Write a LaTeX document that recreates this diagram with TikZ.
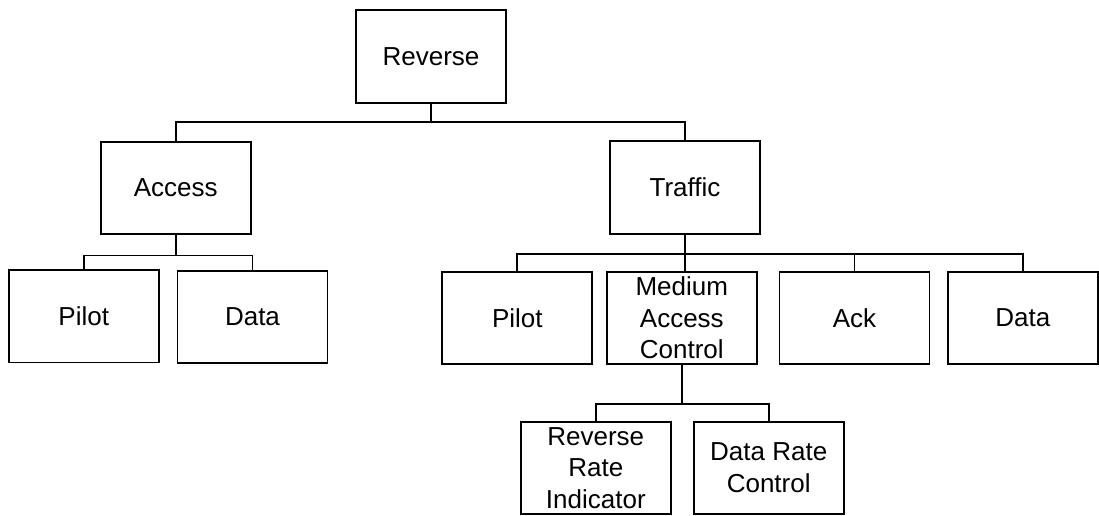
\documentclass[tikz,border=0pt]{standalone}
\usepackage{fontspec}
\setmainfont{Liberation Sans}
\begin{document}
\begin{tikzpicture}[x=1pt,y=-1pt,
  box/.style={draw, line width=1.8pt, inner sep=0pt, minimum width=150pt,
    minimum height=92.5pt, align=center,
    font=\fontsize{26}{31.7}\selectfont},
  link/.style={line width=1.8pt}]
  \useasboundingbox (0,0) rectangle (1099,516);

  % root
  \node[box] (rev) at (431,56.5) {Reverse};

  % second level
  \node[box] (acc) at (175.7,188) {Access};
  \node[box] (tra) at (685,187.5) {Traffic};

  % children of Access
  \node[box] (pil1) at (83.7,316.3) {Pilot};
  \node[box] (dat1) at (252.5,317) {Data};

  % children of Traffic
  \node[box] (pil2) at (517.3,318) {Pilot};
  \node[box] (mac)  at (681.8,318) {Medium\\Access\\Control};
  \node[box] (ack)  at (854.5,318) {Ack};
  \node[box] (dat2) at (1022.8,318) {Data};

  % children of Medium Access Control
  \node[box] (rri) at (595.8,468) {Reverse\\Rate\\Indicator};
  \node[box] (drc) at (768.7,468) {Data Rate\\Control};

  % tree connectors
  \draw[link] (rev.south) -- ++(0,18.7) coordinate (b0);
  \draw[link] (acc.north) |- (b0) -| (tra.north);

  \draw[link] (acc.south) -- ++(0,20.3) coordinate (b1);
  \draw[link] (pil1.north) |- (b1) -| (dat1.north);

  \draw[link] (tra.south) -- ++(0,19.3) coordinate (b2);
  \draw[link] (pil2.north) |- (b2) -| (dat2.north);
  \draw[link] (b2) -- (b2 |- mac.north);
  \draw[link] (ack.north) |- (b2);

  \draw[link] (mac.south) -- ++(0,39) coordinate (b3);
  \draw[link] (rri.north) |- (b3) -| (drc.north);
\end{tikzpicture}
\end{document}
